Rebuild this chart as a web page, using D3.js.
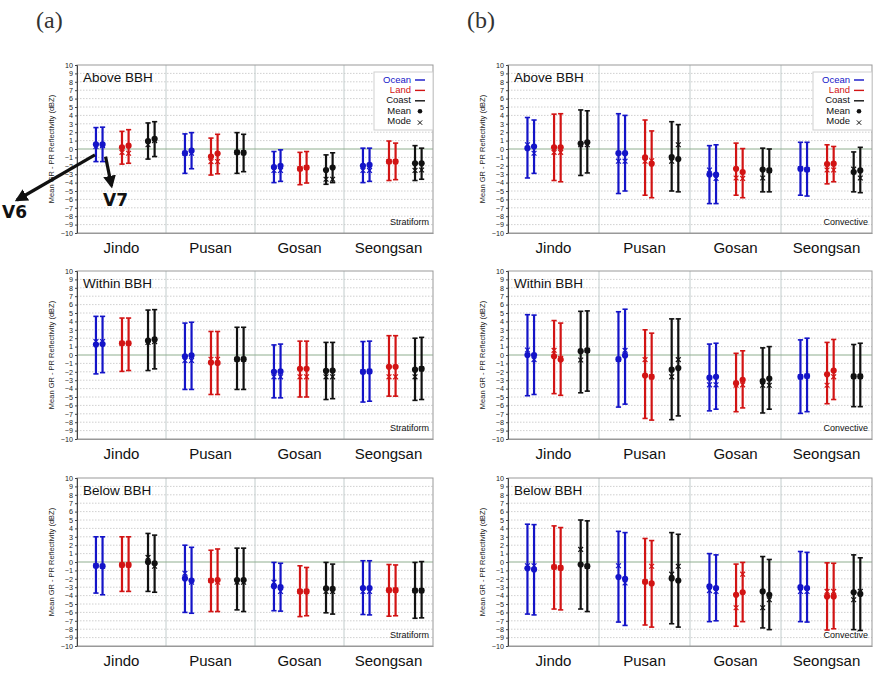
<!DOCTYPE html>
<html><head><meta charset="utf-8">
<script src="https://cdn.jsdelivr.net/npm/d3@7/dist/d3.min.js"></script>
<style>body{margin:0;background:#fff}svg{display:block}</style>
</head><body>
<svg id="c" width="885" height="681"></svg>
<script>
// ---------- data ----------
const sites = ["Jindo","Pusan","Gosan","Seongsan"];
const types = ["Ocean","Land","Coast"];
const versions = ["V6","V7"];
const layers = ["Above BBH","Within BBH","Below BBH"];
const regimes = ["Stratiform","Convective"];
const yTicks = d3.range(-10, 11);
const panelLetters = ["(a)","(b)"];
// order of the 24 values: site -> type (Ocean, Land, Coast) -> version (V6, V7)

// Above BBH, Stratiform
const aboveStratMean  = [0.55,0.55, 0.2,0.4, 0.95,1.2, -0.5,-0.2, -0.9,-0.55, -0.4,-0.45, -2.15,-2.0, -2.35,-2.2, -2.5,-2.2, -2.0,-1.9, -1.5,-1.5, -1.7,-1.7];
const aboveStratMode  = [0.3,0.4, -0.4,-0.5, 0.5,1.0, -0.5,-0.5, -1.5,-1.5, -0.4,-0.45, -2.55,-2.55, -2.35,-2.2, -3.6,-3.6, -2.55,-2.55, -1.5,-1.5, -2.55,-2.5];
const aboveStratUpper = [2.55,2.6, 2.1,2.3, 3.1,3.25, 1.8,1.95, 1.3,1.75, 1.95,1.75, -0.3,-0.1, -0.4,-0.3, -0.7,-0.45, 0.1,0.1, 0.95,0.7, 0.4,0.1];
const aboveStratLower = [-1.5,-1.5, -1.8,-1.7, -1.2,-0.9, -2.9,-2.35, -3.1,-2.95, -2.9,-2.7, -4.0,-3.85, -4.25,-4.05, -4.2,-4.0, -4.0,-3.85, -3.75,-3.65, -3.75,-3.6];
// Above BBH, Convective
const aboveConvMean  = [0.1,0.3, 0.2,0.2, 0.65,0.8, -0.5,-0.5, -1.0,-1.75, -0.95,-1.2, -3.05,-3.05, -2.35,-2.75, -2.45,-2.55, -2.35,-2.45, -1.8,-1.75, -2.75,-2.55];
const aboveConvMode  = [0.5,-0.5, -0.4,-0.4, 0.5,0.5, -1.45,-1.45, -1.45,-1.4, -1.45,0.5, -2.5,-3.5, -3.45,-3.5, -3.45,-2.55, -2.35,-2.45, -2.5,-2.5, -2.4,-3.45];
const aboveConvUpper = [3.75,3.45, 4.15,4.2, 4.65,4.55, 4.2,4.0, 3.45,2.15, 3.25,2.9, 0.4,0.5, 0.7,0.05, 0.1,0.0, 0.8,0.8, 0.5,0.3, -0.35,0.2];
const aboveConvLower = [-3.45,-2.9, -3.75,-3.9, -3.15,-2.85, -5.3,-5.0, -5.5,-5.8, -5.0,-5.1, -6.5,-6.5, -5.5,-5.8, -5.1,-5.1, -5.5,-5.6, -4.15,-3.9, -5.1,-5.2];
// Within BBH, Stratiform
const withinStratMean  = [1.25,1.3, 1.4,1.4, 1.7,1.85, -0.15,-0.05, -0.9,-0.95, -0.5,-0.5, -2.0,-1.95, -1.65,-1.65, -1.9,-1.85, -2.0,-1.95, -1.4,-1.4, -1.75,-1.65];
const withinStratMode  = [1.6,1.6, 1.4,1.4, 1.5,1.6, -0.65,-0.65, -0.5,-0.5, -0.5,-0.5, -2.6,-2.6, -2.6,-2.6, -2.6,-2.6, -2.0,-1.95, -2.6,-2.6, -2.6,-1.65];
const withinStratUpper = [4.6,4.6, 4.4,4.4, 5.35,5.4, 3.8,3.9, 2.8,2.8, 3.3,3.3, 1.2,1.3, 1.65,1.65, 1.5,1.5, 1.6,1.65, 2.3,2.3, 2.0,2.1];
const withinStratLower = [-2.25,-2.1, -1.95,-1.85, -1.85,-1.65, -4.1,-4.1, -4.7,-4.7, -4.1,-4.1, -5.1,-5.1, -5.0,-5.0, -5.3,-5.2, -5.6,-5.5, -4.9,-4.9, -5.4,-5.3];
// Within BBH, Convective
const withinConvMean  = [0.0,0.0, -0.15,-0.55, 0.45,0.55, -0.5,-0.05, -2.45,-2.6, -1.75,-1.55, -2.7,-2.6, -3.35,-2.95, -3.1,-2.8, -2.6,-2.5, -2.3,-1.85, -2.55,-2.55];
const withinConvMode  = [0.6,-0.55, 0.55,-0.4, -0.6,0.55, -0.5,0.55, -0.55,-2.6, -2.6,-0.55, -3.55,-3.55, -3.6,-3.55, -3.6,-3.6, -2.6,-2.5, -3.6,-2.6, -2.55,-2.55];
const withinConvUpper = [4.8,4.75, 4.1,3.8, 5.2,5.25, 5.15,5.45, 3.0,2.6, 4.3,4.3, 1.3,1.4, 0.2,0.5, 0.85,1.0, 1.8,2.0, 1.5,1.85, 1.25,1.4];
const withinConvLower = [-4.85,-4.7, -4.6,-4.8, -4.5,-4.3, -6.2,-5.85, -7.55,-7.75, -7.7,-7.25, -6.65,-6.45, -6.75,-6.3, -6.9,-6.45, -6.95,-6.75, -5.8,-5.3, -6.15,-6.15];
// Below BBH, Stratiform
const belowStratMean  = [-0.45,-0.5, -0.35,-0.35, 0.0,-0.15, -1.95,-2.2, -2.2,-2.15, -2.15,-2.15, -2.9,-3.0, -3.5,-3.5, -3.15,-3.2, -3.1,-3.1, -3.35,-3.35, -3.4,-3.4];
const belowStratMode  = [-0.45,-0.5, -0.35,-0.35, 0.55,-0.5, -1.35,-2.4, -2.2,-2.4, -2.4,-2.4, -2.4,-3.5, -3.5,-3.5, -3.5,-3.5, -3.5,-3.5, -3.35,-3.35, -3.4,-3.4];
const belowStratUpper = [3.0,3.0, 3.0,3.0, 3.4,3.2, 2.0,1.75, 1.4,1.55, 1.65,1.65, -0.05,-0.15, -0.45,-0.65, -0.05,-0.25, 0.15,0.15, -0.3,-0.35, -0.05,0.05];
const belowStratLower = [-3.7,-3.9, -3.5,-3.5, -3.5,-3.6, -6.0,-6.1, -5.9,-5.9, -5.7,-5.9, -5.8,-5.85, -6.5,-6.4, -6.05,-6.2, -6.25,-6.3, -6.45,-6.4, -6.7,-6.65];
// Below BBH, Convective
const belowConvMean  = [-0.75,-0.9, -0.6,-0.7, -0.3,-0.5, -1.8,-2.0, -2.35,-2.55, -1.95,-2.2, -2.9,-3.1, -3.9,-3.6, -3.5,-3.9, -3.0,-3.1, -4.1,-4.1, -3.6,-3.8];
const belowConvMode  = [-0.45,-0.45, -0.6,-0.7, 1.5,-0.5, -0.45,-2.5, -2.35,-0.5, -1.45,-0.5, -3.4,-3.5, -5.45,-1.45, -5.45,-4.5, -3.5,-3.5, -3.5,-3.5, -4.5,-3.5];
const belowConvUpper = [4.5,4.45, 4.3,4.1, 5.0,4.9, 3.65,3.5, 2.8,2.55, 3.5,3.3, 1.0,0.85, -0.25,-0.05, 0.65,0.3, 1.25,1.15, -0.1,-0.15, 0.85,0.5];
const belowConvLower = [-6.2,-6.3, -5.6,-5.7, -5.6,-5.9, -7.15,-7.55, -7.5,-7.75, -7.35,-7.75, -7.1,-7.0, -7.65,-7.1, -7.85,-8.05, -7.1,-7.15, -8.1,-7.95, -8.05,-8.15];

const panelData = [
  [[aboveStratMean, aboveStratMode, aboveStratUpper, aboveStratLower],
   [aboveConvMean, aboveConvMode, aboveConvUpper, aboveConvLower]],
  [[withinStratMean, withinStratMode, withinStratUpper, withinStratLower],
   [withinConvMean, withinConvMode, withinConvUpper, withinConvLower]],
  [[belowStratMean, belowStratMode, belowStratUpper, belowStratLower],
   [belowConvMean, belowConvMode, belowConvUpper, belowConvLower]]
];

// ---------- layout / style ----------
const colorScale = d3.scaleOrdinal().domain(types).range(["#1414c8","#d21414","#111111"]);
const colLayout = [{x0:77, x1:433, yTitle:52, letterX:36}, {x0:508, x1:872, yTitle:483, letterX:467}];
const rowTops = [65, 271, 478];
const plotH = 168;
const sansFont = "'Liberation Sans', Arial, sans-serif";

const svg = d3.select("#c");

colLayout.forEach((col, ci) => {
  svg.append("text").attr("x", col.letterX).attr("y", 28)
    .attr("font-family", "'Liberation Serif','DejaVu Serif',serif")
    .attr("font-size", 24).attr("fill", "#333").text(panelLetters[ci]);

  rowTops.forEach((top, ri) => {
    const g = svg.append("g");
    const y = d3.scaleLinear().domain([-10, 10]).range([top + plotH, top]);
    const xSite = d3.scaleBand().domain(sites).range([col.x0, col.x1]).paddingInner(0).paddingOuter(0);
    const bw = xSite.bandwidth();
    const xType = d3.scalePoint().domain(types).range([bw * 0.25, bw * 0.835]);
    const xVer = d3.scalePoint().domain(versions).range([-3.3, 3.3]);

    g.append("rect").attr("x", col.x0).attr("y", top).attr("width", col.x1 - col.x0).attr("height", plotH).attr("fill", "#fff");
    g.selectAll("line.hg").data(yTicks.filter(d => d !== 0 && d !== -10 && d !== 10)).join("line")
      .attr("x1", col.x0).attr("x2", col.x1)
      .attr("y1", d => y(d)).attr("y2", d => y(d))
      .attr("stroke", "#c4c4c4").attr("stroke-width", 0.8).attr("stroke-dasharray", "1.5,1.5");
    g.selectAll("line.vs").data(sites.slice(1)).join("line")
      .attr("x1", d => xSite(d)).attr("x2", d => xSite(d))
      .attr("y1", top).attr("y2", top + plotH)
      .attr("stroke", "#c2cccc").attr("stroke-width", 1);
    g.append("line").attr("x1", col.x0).attr("x2", col.x1).attr("y1", y(0)).attr("y2", y(0))
      .attr("stroke", "#8fae8f").attr("stroke-width", 1);
    g.append("rect").attr("x", col.x0).attr("y", top).attr("width", col.x1 - col.x0).attr("height", plotH)
      .attr("fill", "none").attr("stroke", "#999").attr("stroke-width", 1);

    const yAxis = d3.axisLeft(y).tickValues(yTicks).tickSize(2).tickPadding(2).tickFormat(d3.format("d"));
    const ag = g.append("g").attr("transform", `translate(${col.x0},0)`).call(yAxis);
    ag.select(".domain").attr("stroke", "#444");
    ag.selectAll(".tick line").attr("stroke", "#444");
    ag.selectAll("text").attr("font-family", sansFont).attr("font-size", 7.2).attr("fill", "#222");

    const xAxis = d3.axisBottom(xSite).tickSize(0).tickPadding(9);
    const xg = g.append("g").attr("transform", `translate(0,${top + plotH})`).call(xAxis);
    xg.select(".domain").attr("stroke", "#999");
    xg.selectAll("text").attr("font-family", sansFont).attr("font-size", 15).attr("fill", "#111");

    g.append("text").attr("transform", `translate(${col.yTitle},${y(0)}) rotate(-90)`)
      .attr("text-anchor", "middle").attr("dominant-baseline", "middle")
      .attr("font-family", sansFont).attr("font-size", 7.5).attr("fill", "#222")
      .text("Mean GR - PR Reflectivity (dBZ)");

    g.append("text").attr("x", col.x0 + 6).attr("y", top + 17)
      .attr("font-family", sansFont).attr("font-size", 13.5).attr("fill", "#111").text(layers[ri]);
    g.append("text").attr("x", col.x1 - 4).attr("y", top + 160).attr("text-anchor", "end")
      .attr("font-family", sansFont).attr("font-size", 9).attr("fill", "#111").text(regimes[ci]);

    const [mean, mode, upper, lower] = panelData[ri][ci];
    const recs = [];
    let k = 0;
    sites.forEach(s => types.forEach(t => versions.forEach(v => {
      recs.push({site: s, type: t, ver: v, mean: mean[k], mode: mode[k], upper: upper[k], lower: lower[k]});
      k++;
    })));
    const xPos = d => xSite(d.site) + xType(d.type) + xVer(d.ver);

    const bars = g.append("g").selectAll("g").data(recs).join("g")
      .attr("stroke", d => colorScale(d.type)).attr("fill", d => colorScale(d.type));
    bars.append("line").attr("x1", xPos).attr("x2", xPos)
      .attr("y1", d => y(d.upper)).attr("y2", d => y(d.lower)).attr("stroke-width", 2.2);
    bars.append("line").attr("x1", d => xPos(d) - 2.6).attr("x2", d => xPos(d) + 2.6)
      .attr("y1", d => y(d.upper)).attr("y2", d => y(d.upper)).attr("stroke-width", 1.6);
    bars.append("line").attr("x1", d => xPos(d) - 2.6).attr("x2", d => xPos(d) + 2.6)
      .attr("y1", d => y(d.lower)).attr("y2", d => y(d.lower)).attr("stroke-width", 1.6);
    bars.append("path").attr("d", d => {
      const cx = xPos(d), cy = y(d.mode), r = 2.4;
      return `M${cx - r},${cy - r}L${cx + r},${cy + r}M${cx - r},${cy + r}L${cx + r},${cy - r}`;
    }).attr("fill", "none").attr("stroke-width", 1.2);
    bars.append("circle").attr("cx", xPos).attr("cy", d => y(d.mean)).attr("r", 3.1).attr("stroke", "none");

    if (ri === 0) {
      const lx = col.x1 - 59, ly = top + 7;
      const lg = g.append("g");
      lg.append("rect").attr("x", lx).attr("y", ly).attr("width", 59).attr("height", 58)
        .attr("fill", "#fff").attr("stroke", "#cfcfcf").attr("stroke-width", 1);
      const entries = types.map(t => ({label: t, color: t === "Coast" ? "#111" : colorScale(t), kind: "line"}))
        .concat([{label: "Mean", color: "#111", kind: "dot"}, {label: "Mode", color: "#111", kind: "x"}]);
      entries.forEach((e, i) => {
        const yy = ly + 8 + i * 10.4;
        lg.append("text").attr("x", lx + 37).attr("y", yy).attr("text-anchor", "end")
          .attr("dominant-baseline", "middle").attr("font-family", sansFont).attr("font-size", 9.5)
          .attr("fill", e.color).text(e.label);
        if (e.kind === "line") {
          lg.append("line").attr("x1", lx + 41).attr("x2", lx + 51).attr("y1", yy).attr("y2", yy)
            .attr("stroke", e.color).attr("stroke-width", 1.4);
        } else if (e.kind === "dot") {
          lg.append("circle").attr("cx", lx + 46).attr("cy", yy).attr("r", 2.3).attr("fill", "#111");
        } else {
          const r = 2.2, cx = lx + 46, cy = yy + 1;
          lg.append("path").attr("d", `M${cx - r},${cy - r}L${cx + r},${cy + r}M${cx - r},${cy + r}L${cx + r},${cy - r}`)
            .attr("stroke", "#111").attr("stroke-width", 1).attr("fill", "none");
        }
      });
    }

    if (ri === 0 && ci === 0) {
      const d6 = recs[0], d7 = recs[1];
      const defs = svg.append("defs");
      defs.append("marker").attr("id", "ah").attr("viewBox", "0 0 10 10").attr("refX", 8).attr("refY", 5)
        .attr("markerWidth", 4).attr("markerHeight", 4).attr("orient", "auto")
        .append("path").attr("d", "M0,0L10,5L0,10z").attr("fill", "#111");
      const sx6 = xPos(d6) - 1, sy6 = y(-0.7);
      const sx7 = xPos(d7) + 3, sy7 = y(-0.9);
      svg.append("line").attr("x1", sx6).attr("y1", sy6).attr("x2", 17).attr("y2", 200)
        .attr("stroke", "#111").attr("stroke-width", 3.2).attr("marker-end", "url(#ah)");
      svg.append("line").attr("x1", sx7).attr("y1", sy7).attr("x2", sx7 + 6).attr("y2", 186)
        .attr("stroke", "#111").attr("stroke-width", 3.2).attr("marker-end", "url(#ah)");
      svg.append("text").attr("x", 2).attr("y", 218).attr("font-family", "'DejaVu Sans', sans-serif")
        .attr("font-weight", "bold").attr("font-size", 17).attr("fill", "#111").text("V6");
      svg.append("text").attr("x", 103).attr("y", 206).attr("font-family", "'DejaVu Sans', sans-serif")
        .attr("font-weight", "bold").attr("font-size", 17).attr("fill", "#111").text("V7");
    }
  });
});
</script>
</body></html>
